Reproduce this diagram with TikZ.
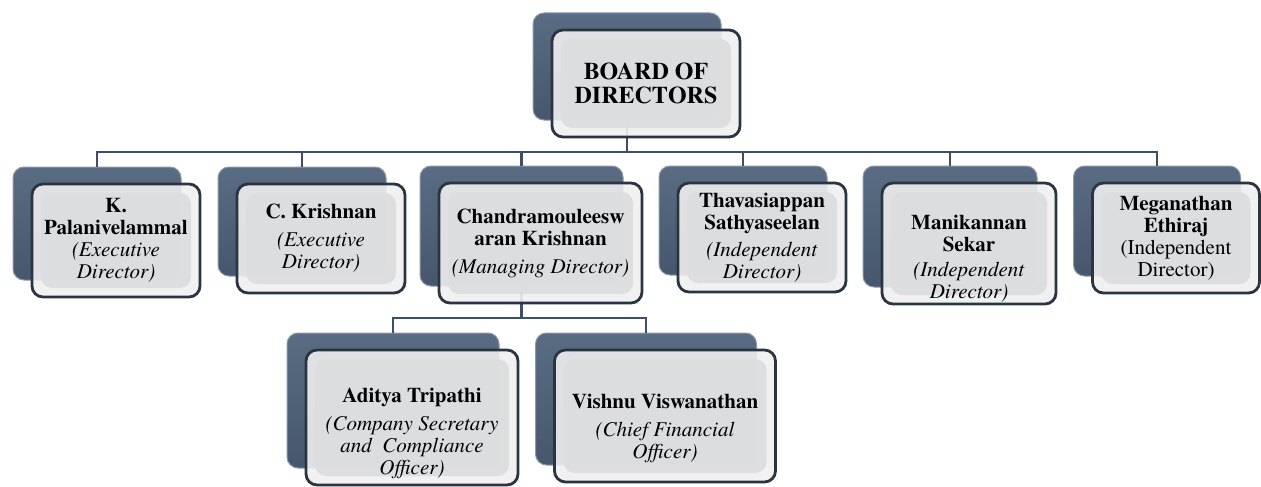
\documentclass[tikz,border=0pt]{standalone}
\usepackage{fontspec}
\setmainfont{TeX Gyre Termes}
\usetikzlibrary{calc}

\definecolor{slate}{HTML}{3D4F66}
\definecolor{backtop}{HTML}{5A6C83}
\definecolor{backbot}{HTML}{46576D}
\definecolor{backrim}{HTML}{8A98A8}
\definecolor{faceedge}{HTML}{2A3541}
\definecolor{faceband}{HTML}{EFEFF0}
\definecolor{facegray}{HTML}{DCDDDF}

\tikzset{
  backbox/.style={draw=backrim, line width=1pt, rounded corners=11pt, top color=backtop, bottom color=backbot, inner sep=0pt},
  frontbox/.style={draw=faceedge, line width=2.8pt, rounded corners=11pt, fill=faceband, fill opacity=0.9, text opacity=1,
    inner sep=0pt, align=center, font=\fontsize{21}{22}\selectfont,
    path picture={\fill[facegray] ([shift={(9pt,9pt)}]path picture bounding box.south west) rectangle ([shift={(-9pt,-9pt)}]path picture bounding box.north east);}},
  link/.style={draw=slate, line width=2.5pt},
}

\begin{document}
\begin{tikzpicture}[x=1pt, y=-1pt]
\useasboundingbox (0,0) rectangle (1261,487);

% back plates
\node[backbox, minimum width=188, minimum height=107] (board back) at (627,66.5) {};
\node[backbox, minimum width=168, minimum height=113] (palani back) at (97,223.5) {};
\node[backbox, minimum width=168, minimum height=109] (krishnan back) at (302,221.5) {};
\node[backbox, minimum width=203, minimum height=120] (chandra back) at (521.5,226) {};
\node[backbox, minimum width=168, minimum height=109] (thava back) at (743,220.5) {};
\node[backbox, minimum width=174, minimum height=121] (mani back) at (950,226.5) {};
\node[backbox, minimum width=167, minimum height=110] (mega back) at (1157,221) {};
\node[backbox, minimum width=212, minimum height=135] (aditya back) at (393,400.5) {};
\node[backbox, minimum width=221, minimum height=132] (vishnu back) at (646,399) {};

% connectors
\coordinate (bar top) at (0,152);
\coordinate (bar mid) at (0,318);
\draw[link] (board back.south) -- (board back.south |- bar top) -| (palani back.north);
\draw[link] (board back.south |- bar top) -| (krishnan back.north);
\draw[link] (board back.south |- bar top) -| (chandra back.north);
\draw[link] (board back.south |- bar top) -| (thava back.north);
\draw[link] (board back.south |- bar top) -| (mani back.north);
\draw[link] (board back.south |- bar top) -| (mega back.north);
\draw[link] (chandra back.south) -- (chandra back.south |- bar mid) -| (aditya back.north);
\draw[link] (chandra back.south |- bar mid) -| (vishnu back.north);

% front plates
\node[frontbox, minimum width=188, minimum height=107, font=\fontsize{24}{24}\selectfont\bfseries] (board) at ([xshift=19pt,yshift=-17pt]board back.center) {BOARD OF\\DIRECTORS};
\node[frontbox, minimum width=168, minimum height=113] (palani) at ([xshift=19pt,yshift=-17pt]palani back.center) {\textbf{K.}\\\textbf{Palanivelammal}\\\textit{(Executive}\\\textit{Director)}};
\node[frontbox, minimum width=168, minimum height=109] (krishnan) at ([xshift=19pt,yshift=-17pt]krishnan back.center) {\textbf{C. Krishnan}\\[6pt]\textit{(Executive}\\\textit{Director)}};
\node[frontbox, minimum width=203, minimum height=120] (chandra) at ([xshift=19pt,yshift=-17pt]chandra back.center) {\textbf{Chandramouleesw}\\\textbf{aran Krishnan}\\[6pt]\textit{(Managing Director)}};
\node[frontbox, minimum width=168, minimum height=109] (thava) at ([xshift=19pt,yshift=-17pt]thava back.center) {\textbf{Thavasiappan}\\\textbf{Sathyaseelan}\\[5pt]\textit{(Independent}\\\textit{Director)}};
\node[frontbox, minimum width=174, minimum height=121] (mani) at ([xshift=19pt,yshift=-17pt]mani back.center) {\rule{0pt}{44pt}\textbf{Manikannan}\\\textbf{Sekar}\\[3pt]\textit{(Independent}\\\textit{Director)}};
\node[frontbox, minimum width=167, minimum height=110] (mega) at ([xshift=19pt,yshift=-17pt]mega back.center) {\textbf{Meganathan}\\\textbf{Ethiraj}\\(Independent\\Director)};
\node[frontbox, minimum width=212, minimum height=135] (aditya) at ([xshift=19pt,yshift=-17pt]aditya back.center) {\rule{0pt}{47pt}\textbf{Aditya Tripathi}\\[6pt]\textit{(Company Secretary}\\\textit{and\ \ Compliance}\\\textit{Officer)}};
\node[frontbox, minimum width=221, minimum height=132] (vishnu) at ([xshift=19pt,yshift=-17pt]vishnu back.center) {\rule{0pt}{39pt}\textbf{Vishnu Viswanathan}\\[6pt]\textit{(Chief Financial}\\\textit{Officer)}};
\end{tikzpicture}
\end{document}
